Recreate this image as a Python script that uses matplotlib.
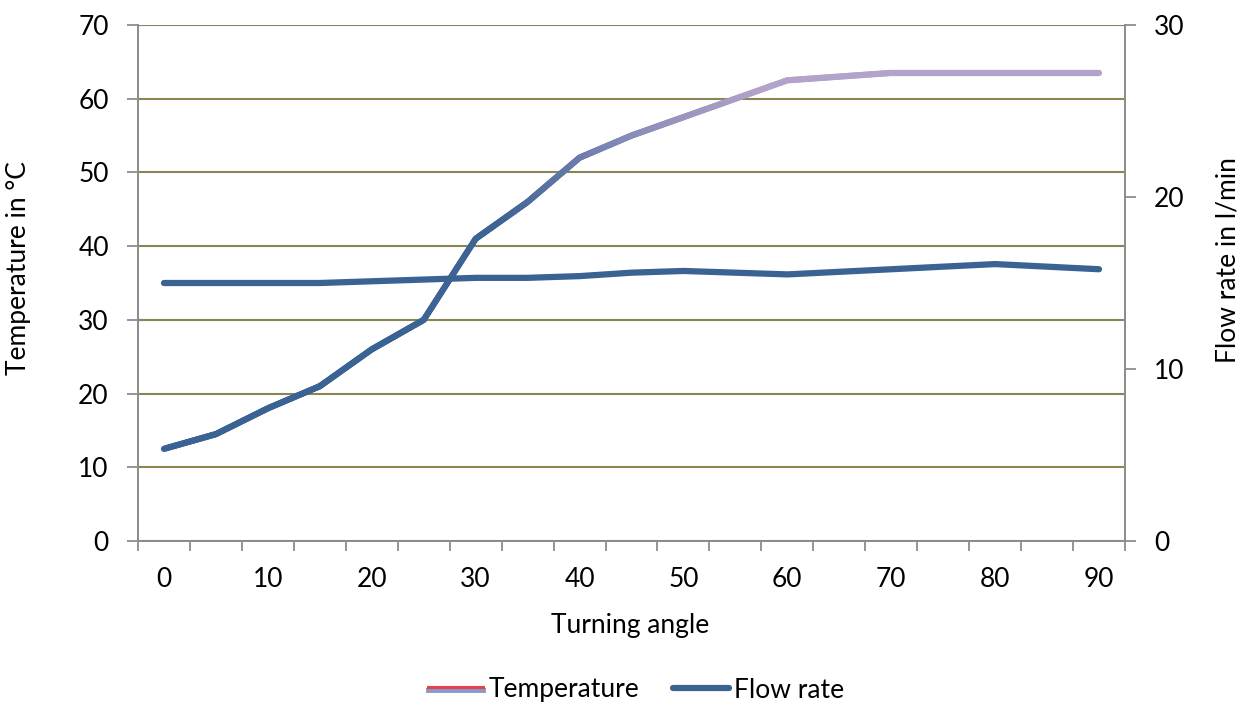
import numpy as np
import matplotlib.pyplot as plt
from matplotlib.collections import LineCollection
from matplotlib.colors import LinearSegmentedColormap
from matplotlib.lines import Line2D
import matplotlib.patheffects as pe

plt.rcParams['font.family'] = ['Lato', 'DejaVu Sans']

# Daten
angle = [0, 5, 10, 15, 20, 25, 30, 35, 40, 45, 50, 60, 70, 80, 90]
temperature = [12.5, 14.5, 18, 21, 26, 30, 41, 46, 52, 55, 57.5, 62.5, 63.5, 63.5, 63.5]
flow = [15.0, 15.0, 15.0, 15.0, 15.1, 15.2, 15.3, 15.3, 15.4, 15.6, 15.7, 15.5, 15.8, 16.1, 15.8]
x_labels = [0, 10, 20, 30, 40, 50, 60, 70, 80, 90]

fs = 19
fig = plt.figure(figsize=(12.46, 7.06), dpi=100)
ax = fig.add_axes([138 / 1246, 1 - 541 / 706, 987 / 1246, 516 / 706])
ax2 = ax.twinx()

grid_col = '#8B8555'
spine_col = '#8C8C8C'
blue = '#3A6293'

# Temperatur-Linie mit Farbverlauf (dunkelblau -> flieder)
xs, ys = [], []
for i in range(len(angle) - 1):
    t = np.linspace(0, 1, 40, endpoint=False)
    xs.extend(angle[i] + t * (angle[i + 1] - angle[i]))
    ys.extend(temperature[i] + t * (temperature[i + 1] - temperature[i]))
xs.append(angle[-1])
ys.append(temperature[-1])
xs = np.array(xs)
ys = np.array(ys)
pts = np.column_stack([xs, ys]).reshape(-1, 1, 2)
segs = np.concatenate([pts[:-1], pts[1:]], axis=1)
cmap = LinearSegmentedColormap.from_list('temp', ['#3A6293', '#3D6494', '#8A8CB9', '#B3A2C9', '#B3A2C9'])
c = np.clip((xs[:-1] - 20) / 50, 0, 1)
lc = LineCollection(segs, colors=cmap(c), linewidths=4.5, capstyle='round', joinstyle='round', zorder=3)
ax.add_collection(lc)

ax2.plot(angle, flow, color=blue, lw=4.5, solid_capstyle='round', solid_joinstyle='round', zorder=3)

ax.set_xlim(-2.5, 92.5)
ax.set_ylim(0, 70)
ax2.set_ylim(0, 30)

ax.set_yticks(range(0, 71, 10))
ax2.set_yticks([0, 10, 20, 30])
ax.set_xticks(x_labels)
ax.set_xticks(np.arange(-2.5, 93, 5), minor=True)
ax.tick_params(axis='x', which='major', length=0, pad=19, labelsize=fs)
ax.tick_params(axis='x', which='minor', length=7, width=1.3, color=spine_col, direction='out')
ax.tick_params(axis='y', length=8, width=1.3, color=spine_col, labelsize=fs, pad=13)
ax2.tick_params(axis='y', length=8, width=1.3, color=spine_col, labelsize=fs, pad=13)

ax.yaxis.grid(True, color=grid_col, lw=1.5)
ax.set_axisbelow(True)

for a in (ax, ax2):
    a.spines['top'].set_visible(False)
    for s in ('left', 'right', 'bottom'):
        a.spines[s].set_color(spine_col)
        a.spines[s].set_linewidth(1.3)

fig.text(630 / 1246, 1 - 625 / 706, 'Turning angle', fontsize=fs, ha='center', va='center')
fig.text(19 / 1246, 1 - 268 / 706, 'Temperature in °C', fontsize=fs, ha='center', va='center', rotation=90)
fig.text(1228 / 1246, 1 - 260 / 706, 'Flow rate in l/min', fontsize=fs, ha='center', va='center', rotation=90)

h_temp = Line2D([], [], color='#E8404E', lw=2.2,
                path_effects=[pe.Stroke(offset=(0, -1.5), linewidth=3.5, foreground='#8E98C8'),
                              pe.Stroke(offset=(0, 1), linewidth=2.2, foreground='#E8404E')])
h_flow = Line2D([], [], color=blue, lw=4.5, solid_capstyle='round')
fig.legend([h_temp, h_flow], ['Temperature', 'Flow rate'], loc='center', bbox_to_anchor=(636 / 1246, 1 - 690 / 706),
           ncol=2, frameon=False, fontsize=fs, handlelength=2.1, handletextpad=0.2, columnspacing=1.3)

fig.savefig('out.png', dpi=100)
